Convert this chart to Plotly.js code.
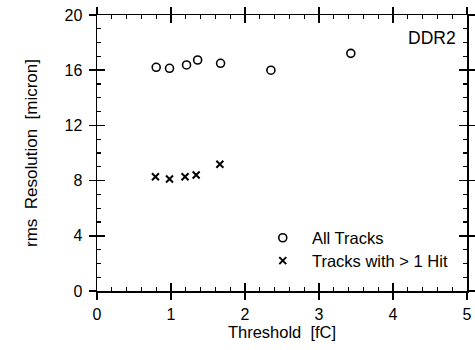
<!DOCTYPE html>
<html><head><meta charset="utf-8">
<script src="https://cdn.plot.ly/plotly-3.0.1.min.js"></script>
<style>html,body{margin:0;padding:0;background:#fff}#c{width:475px;height:350px}</style>
</head><body><div id="c"></div>
<script>
const allX = [0.80, 0.98, 1.21, 1.36, 1.67, 2.35, 3.43];
const allY = [16.21, 16.14, 16.38, 16.74, 16.5, 16.0, 17.22];
const multiX = [0.79, 0.98, 1.19, 1.34, 1.66];
const multiY = [8.28, 8.12, 8.28, 8.4, 9.18];
const xTicks = [0, 1, 2, 3, 4, 5];
const yTicks = [0, 4, 8, 12, 16, 20];
const names = ["All Tracks", "Tracks with > 1 Hit"];
const label = "DDR2";

const F = "Liberation Sans, Arial, Helvetica, sans-serif";
const nb = "\u00a0\u00a0";
const traces = [
  {x: allX, y: allY, mode: 'markers', name: nb + names[0], legend: 'legend',
   marker: {symbol: 'circle-open', size: 8, color: '#000', line: {width: 1.6, color: '#000'}}},
  {x: multiX, y: multiY, mode: 'markers', name: nb + names[1], legend: 'legend2', xaxis: 'x2', yaxis: 'y2',
   marker: {symbol: 'x-thin-open', size: 7, color: '#000', line: {width: 2, color: '#000'}}}
];
const axBase = {showgrid: false, zeroline: false, showline: true, linecolor: '#000', linewidth: 1.5,
  mirror: 'allticks', tickcolor: '#000', tickwidth: 1.5};
const layout = {
  width: 475, height: 350,
  margin: {l: 97, r: 8, t: 15, b: 59},
  paper_bgcolor: '#fff', plot_bgcolor: '#fff',
  font: {family: F, color: '#000', size: 16},
  xaxis: Object.assign({}, axBase, {range: [0, 5], tickvals: xTicks, ticktext: xTicks.map(String),
    ticks: 'inside', ticklen: 8, ticklabelstandoff: 8,
    minor: {dtick: 0.2, ticks: 'inside', ticklen: 4, tickcolor: '#000', tickwidth: 1.2},
    tickfont: {size: 16, family: F},
    title: {text: 'Threshold  [fC]', font: {size: 16.5, family: F}, standoff: 4}}),
  yaxis: Object.assign({}, axBase, {range: [0, 20], tickvals: yTicks, ticktext: yTicks.map(String),
    ticks: 'inside', ticklen: 8, ticklabelstandoff: 10,
    minor: {dtick: 1, ticks: 'inside', ticklen: 4, tickcolor: '#000', tickwidth: 1.2},
    tickfont: {size: 16, family: F},
    title: {text: 'rms  Resolution  [micron]', font: {size: 17, family: F}, standoff: 22}}),
  xaxis2: Object.assign({}, axBase, {overlaying: 'x', anchor: 'y2', range: [0, 5], tickvals: xTicks, showticklabels: false,
    ticks: 'outside', ticklen: 7}),
  yaxis2: Object.assign({}, axBase, {overlaying: 'y', anchor: 'x2', range: [0, 20], tickvals: yTicks, showticklabels: false,
    ticks: 'outside', ticklen: 7}),
  legend: {x: 0.448, y: 0.192, xanchor: 'left', yanchor: 'middle', bgcolor: 'rgba(0,0,0,0)',
    font: {size: 16.5, family: F}},
  legend2: {x: 0.448, y: 0.109, xanchor: 'left', yanchor: 'middle', bgcolor: 'rgba(0,0,0,0)',
    font: {size: 16.5, family: F}},
  showlegend: true,
  annotations: [{text: label, xref: 'paper', yref: 'paper', x: 0.976, y: 0.917, xanchor: 'right', yanchor: 'middle',
    showarrow: false, font: {size: 17.5, family: F}}]
};
Plotly.newPlot('c', traces, layout, {staticPlot: true});
</script></body></html>
